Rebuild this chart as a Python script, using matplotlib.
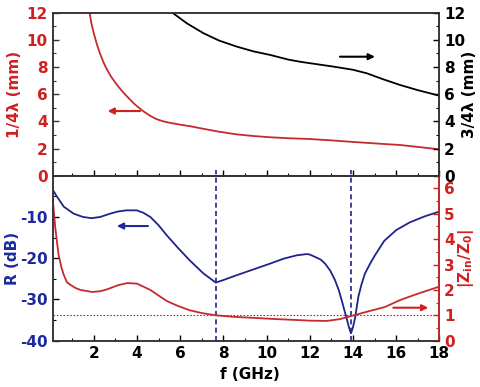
import matplotlib
matplotlib.use("Agg")
import matplotlib.pyplot as plt
from matplotlib.ticker import MultipleLocator

# ---------------- data ----------------
# top panel: quarter-wavelength thickness (mm)
f_q1 = [1.81, 1.9, 2.0, 2.15, 2.3, 2.45, 2.6, 2.8, 3.07, 3.3, 3.5, 3.85, 4.0, 4.3,
        4.62, 4.9, 5.2, 5.5, 6.0, 6.47, 7.08, 7.8, 8.63, 9.4, 10.17, 11.0, 12.0,
        13.0, 13.87, 15.0, 16.18, 17.0, 18.0]
q1 = [12.0, 11.15, 10.5, 9.65, 8.95, 8.35, 7.85, 7.3, 6.7, 6.25, 5.9, 5.33, 5.12,
      4.74, 4.4, 4.17, 4.01, 3.9, 3.76, 3.64, 3.45, 3.24, 3.04, 2.92, 2.83, 2.76,
      2.7, 2.6, 2.5, 2.38, 2.26, 2.12, 1.94]
# top panel: three-quarter-wavelength thickness (mm)
f_q3 = [5.6, 6.31, 7.08, 7.8, 8.63, 9.4, 10.17, 11.0, 11.55, 12.02, 13.1, 14.0,
        14.64, 15.4, 16.18, 17.0, 18.0]
q3 = [12.05, 11.22, 10.49, 9.95, 9.5, 9.15, 8.89, 8.55, 8.39, 8.28, 8.03, 7.8,
      7.54, 7.1, 6.68, 6.3, 5.89]
# bottom panel: reflection loss (dB)
f_r = [0.1, 0.3, 0.61, 1.07, 1.5, 1.9, 2.3, 2.7, 3.1, 3.5, 4.0, 4.3, 4.62, 5.0,
       5.39, 5.9, 6.44, 7.08, 7.65, 8.0, 8.63, 9.4, 10.17, 10.8, 11.4, 11.86, 12.0,
       12.25, 12.5, 12.71, 12.95, 13.17, 13.35, 13.48, 13.6, 13.71, 13.82, 13.91,
       14.0, 14.1, 14.25, 14.4, 14.56, 14.8, 15.02, 15.45, 16.0, 16.64, 17.3, 18.0]
r_db = [-3.4, -5.1, -7.5, -9.2, -10.0, -10.3, -10.0, -9.3, -8.7, -8.4, -8.4, -9.0,
        -10.0, -12.0, -14.5, -17.5, -20.5, -23.7, -25.9, -25.3, -24.1, -22.7, -21.3,
        -20.1, -19.3, -19.0, -19.1, -19.7, -20.3, -21.3, -23.0, -25.3, -27.8, -30.2,
        -32.5, -34.6, -36.8, -38.2, -36.8, -34.5, -29.4, -26.3, -23.7, -21.3, -19.3,
        -15.8, -13.2, -11.3, -9.9, -8.7]
# bottom panel: normalized input impedance |Zin/Z0|
f_z = [0.1, 0.22, 0.37, 0.5, 0.61, 0.76, 0.92, 1.15, 1.38, 1.92, 2.3, 2.61, 3.1,
       3.54, 4.0, 4.62, 5.0, 5.39, 5.9, 6.44, 7.0, 7.65, 8.5, 9.39, 10.5, 11.55,
       12.0, 12.79, 13.4, 13.91, 14.64, 15.49, 16.18, 17.0, 18.0]
z = [5.6, 4.44, 3.39, 2.9, 2.6, 2.3, 2.2, 2.08, 2.0, 1.92, 1.95, 2.02, 2.18, 2.27,
     2.25, 2.0, 1.78, 1.56, 1.37, 1.2, 1.09, 1.0, 0.94, 0.9, 0.85, 0.81, 0.79,
     0.78, 0.85, 0.97, 1.14, 1.33, 1.6, 1.85, 2.13]
f_marks = [7.65, 13.91]
x_ticks = [2, 4, 6, 8, 10, 12, 14, 16, 18]

RED = "#d02020"
RED_LINE = "#c42a2e"
BLUE = "#1c2a9e"
BLUE_LINE = "#1f238c"

plt.rcParams["font.family"] = ["DejaVu Sans"]
plt.rcParams["font.weight"] = "bold"
plt.rcParams["font.size"] = 11
plt.rcParams["axes.unicode_minus"] = False
plt.rcParams["mathtext.default"] = "bf"

fig = plt.figure(figsize=(4.8, 3.87), dpi=100)
L, W = 0.1098, 0.8054
ax1 = fig.add_axes([L, 0.546, W, 0.4212])
ax2 = fig.add_axes([L, 0.1196, W, 0.4264])
ax1r = ax1.twinx()
ax2r = ax2.twinx()

for a in (ax1, ax2, ax1r, ax2r):
    for s in a.spines.values():
        s.set_linewidth(1.1)
        s.set_color("#333333")
ax2r.spines["right"].set_color(RED)

# ---- top panel ----
ax1.plot(f_q1, q1, color=RED_LINE, lw=1.3)
ax1r.plot(f_q3, q3, color="black", lw=1.3)
ax1.set_xlim(0.1, 18)
ax1.set_ylim(0, 12)
ax1r.set_ylim(0, 12)
ax1.set_xticks(x_ticks)
ax1.tick_params(axis="x", labelbottom=False)
ax1.set_ylabel("1/4λ (mm)", color=RED, fontweight="bold")
ax1r.set_ylabel("3/4λ (mm)", color="black", fontweight="bold")
ax1.tick_params(axis="y", colors="#333333", which="both")
ax1.tick_params(axis="y", labelcolor=RED)
ax1r.tick_params(axis="y", labelcolor="black")
ax1.yaxis.set_major_locator(MultipleLocator(2))
ax1.yaxis.set_minor_locator(MultipleLocator(1))
ax1r.yaxis.set_major_locator(MultipleLocator(2))
ax1r.yaxis.set_minor_locator(MultipleLocator(1))
ax1.xaxis.set_minor_locator(MultipleLocator(1))

ax1.annotate("", xy=(2.64, 4.76), xytext=(4.15, 4.76),
             arrowprops=dict(arrowstyle="-|>", color=RED, lw=1.5,
                             mutation_scale=9, shrinkA=0, shrinkB=0))
ax1r.annotate("", xy=(15.02, 8.76), xytext=(13.4, 8.76),
              arrowprops=dict(arrowstyle="-|>", color="black", lw=1.5,
                              mutation_scale=9, shrinkA=0, shrinkB=0))

# ---- bottom panel ----
ax2.plot(f_r, r_db, color=BLUE_LINE, lw=1.3)
ax2r.plot(f_z, z, color=RED_LINE, lw=1.3)
ax2.set_xlim(0.1, 18)
ax2.set_ylim(-40, 0)
ax2r.set_ylim(0, 6.5)
ax2.set_xticks(x_ticks)
ax2.xaxis.set_minor_locator(MultipleLocator(1))
ax2.set_yticks([-40, -30, -20, -10])
ax2.yaxis.set_minor_locator(MultipleLocator(5))
ax2r.set_yticks([0, 1, 2, 3, 4, 5, 6])
ax2r.yaxis.set_minor_locator(MultipleLocator(0.5))
ax2.tick_params(axis="y", labelcolor=BLUE)
ax2r.tick_params(axis="y", colors=RED, which="both")
ax2r.tick_params(axis="y", labelcolor=RED)
ax2.set_ylabel("R (dB)", color=BLUE, fontweight="bold")
ax2r.set_ylabel(r"$|Z_{in}/Z_0|$", color=RED)
ax2.set_xlabel("f (GHz)", fontweight="bold")

ax2r.axhline(1.0, color=RED, lw=0.8, ls=(0, (1.5, 1.5)))
for fm in f_marks:
    ax2.plot([fm, fm], [-40, 1.5], color=BLUE_LINE, lw=1.2,
             ls=(0, (3, 2)), clip_on=False, zorder=5)

ax2.annotate("", xy=(3.07, -12.2), xytext=(4.51, -12.2),
             arrowprops=dict(arrowstyle="-|>", color=BLUE, lw=1.5,
                             mutation_scale=9, shrinkA=0, shrinkB=0))
ax2r.annotate("", xy=(17.49, 1.3), xytext=(15.87, 1.3),
              arrowprops=dict(arrowstyle="-|>", color=RED, lw=1.5,
                              mutation_scale=9, shrinkA=0, shrinkB=0))

for a in (ax1, ax2, ax1r, ax2r):
    a.tick_params(which="both", direction="in")
    a.tick_params(which="major", length=4, width=1)
    a.tick_params(which="minor", length=2.2, width=0.8)
ax1.tick_params(axis="y", which="both", right=False)
ax2.tick_params(axis="y", which="both", right=False)

ax1.yaxis.set_label_coords(-0.08, 0.5)
ax2.yaxis.set_label_coords(-0.085, 0.5)
ax1r.yaxis.set_label_coords(1.058, 0.5)
ax2r.yaxis.set_label_coords(1.043, 0.5)
ax2.xaxis.set_label_coords(0.51, -0.159)

fig.savefig("out.png", dpi=100)
